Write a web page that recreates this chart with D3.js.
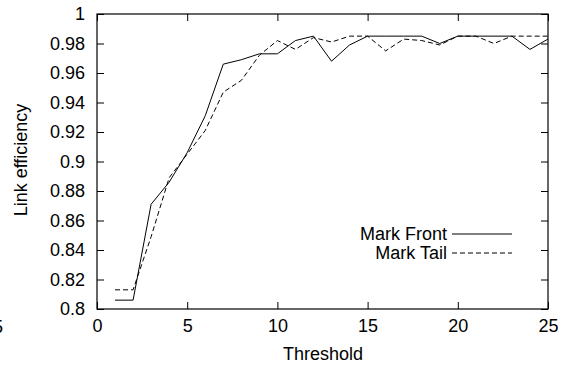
<!DOCTYPE html>
<html>
<head>
<meta charset="utf-8">
<script src="https://cdn.jsdelivr.net/npm/d3@7"></script>
<style>
  body { margin: 0; background: #fff; }
  text { font-family: "Liberation Sans", Arial, sans-serif; fill: #000; }
</style>
</head>
<body>
<div id="chart"></div>
<script>
// data
var thresholds = [1, 2, 3, 4, 5, 6, 7, 8, 9, 10, 11, 12, 13, 14, 15, 16, 17, 18, 19, 20, 21, 22, 23, 24, 25];
var markFront = [0.806, 0.806, 0.871, 0.886, 0.906, 0.931, 0.966, 0.969, 0.973, 0.973, 0.982, 0.985, 0.968, 0.979, 0.985, 0.985, 0.985, 0.985, 0.980, 0.985, 0.985, 0.985, 0.985, 0.976, 0.983];
var markTail = [0.813, 0.813, 0.849, 0.889, 0.905, 0.921, 0.947, 0.955, 0.972, 0.982, 0.976, 0.984, 0.981, 0.985, 0.985, 0.975, 0.983, 0.982, 0.979, 0.985, 0.985, 0.980, 0.985, 0.985, 0.985];
var xTicks = [0, 5, 10, 15, 20, 25];
var yTicks = [0.8, 0.82, 0.84, 0.86, 0.88, 0.9, 0.92, 0.94, 0.96, 0.98, 1];
var seriesNames = ["Mark Front", "Mark Tail"];

var margin = { top: 14, right: 20, bottom: 59, left: 97 },
  width = 548 - margin.left,
  height = 309 - margin.top;
var fontSize = 18;

var svg = d3
  .select("#chart")
  .append("svg")
  .attr("width", 568)
  .attr("height", 368);

var g = svg
  .append("g")
  .attr("transform", "translate(" + margin.left + "," + margin.top + ")");

var x = d3.scaleLinear().domain([0, 25]).range([0, width]);
var y = d3.scaleLinear().domain([0.8, 1]).range([height, 0]);
var tickLen = 7;

// ticks drawn inward on all four sides (gnuplot style)
function styleAxis(sel) {
  sel.select(".domain").remove();
  sel.selectAll("line").attr("stroke", "#000").attr("stroke-width", 1);
  sel.selectAll("text").style("font-size", fontSize + "px").attr("fill", "#000");
}

g.append("g")
  .attr("transform", "translate(0," + height + ")")
  .call(d3.axisBottom(x).tickValues(xTicks).tickSizeInner(-tickLen).tickPadding(10).tickFormat(d3.format("d")))
  .call(styleAxis);

g.append("g")
  .call(d3.axisTop(x).tickValues(xTicks).tickSizeInner(-tickLen).tickFormat(""))
  .call(styleAxis);

g.append("g")
  .call(d3.axisLeft(y).tickValues(yTicks).tickSizeInner(-tickLen).tickPadding(12).tickFormat(function (d) {
    return String(+d.toFixed(2));
  }))
  .call(styleAxis);

g.append("g")
  .attr("transform", "translate(" + width + ",0)")
  .call(d3.axisRight(y).tickValues(yTicks).tickSizeInner(-tickLen).tickFormat(""))
  .call(styleAxis);

// frame
g.append("rect")
  .attr("x", 0)
  .attr("y", 0)
  .attr("width", width)
  .attr("height", height)
  .attr("fill", "none")
  .attr("stroke", "#000")
  .attr("stroke-width", 1.2);

var line = d3
  .line()
  .x(function (d) { return x(d[0]); })
  .y(function (d) { return y(d[1]); });

g.append("path")
  .datum(d3.zip(thresholds, markFront))
  .attr("fill", "none")
  .attr("stroke", "#000")
  .attr("stroke-width", 1)
  .attr("d", line);

g.append("path")
  .datum(d3.zip(thresholds, markTail))
  .attr("fill", "none")
  .attr("stroke", "#000")
  .attr("stroke-width", 1)
  .attr("stroke-dasharray", "5,3")
  .attr("d", line);

// axis titles
svg.append("text")
  .attr("x", 323)
  .attr("y", 360)
  .attr("text-anchor", "middle")
  .style("font-size", fontSize + "px")
  .text("Threshold");

svg.append("text")
  .attr("transform", "translate(27,160) rotate(-90)")
  .attr("text-anchor", "middle")
  .style("font-size", fontSize + "px")
  .text("Link efficiency");

// clipped leftover label at the left edge (as in the original)
svg.append("text")
  .attr("x", 3)
  .attr("y", 333)
  .attr("text-anchor", "end")
  .style("font-size", fontSize + "px")
  .text("5");

// legend
var legend = svg
  .selectAll(".legend")
  .data(seriesNames)
  .enter()
  .append("g")
  .attr("class", "legend")
  .attr("transform", function (d, i) {
    return "translate(0," + (234 + 19 * i) + ")";
  });

legend
  .append("text")
  .attr("x", 447)
  .attr("y", 6)
  .attr("text-anchor", "end")
  .style("font-size", fontSize + "px")
  .text(function (d) { return d; });

legend
  .append("line")
  .attr("x1", 452)
  .attr("x2", 512)
  .attr("y1", 0)
  .attr("y2", 0)
  .attr("stroke", "#000")
  .attr("stroke-width", 1)
  .attr("stroke-dasharray", function (d, i) { return i === 1 ? "5,3" : null; });
</script>
</body>
</html>
